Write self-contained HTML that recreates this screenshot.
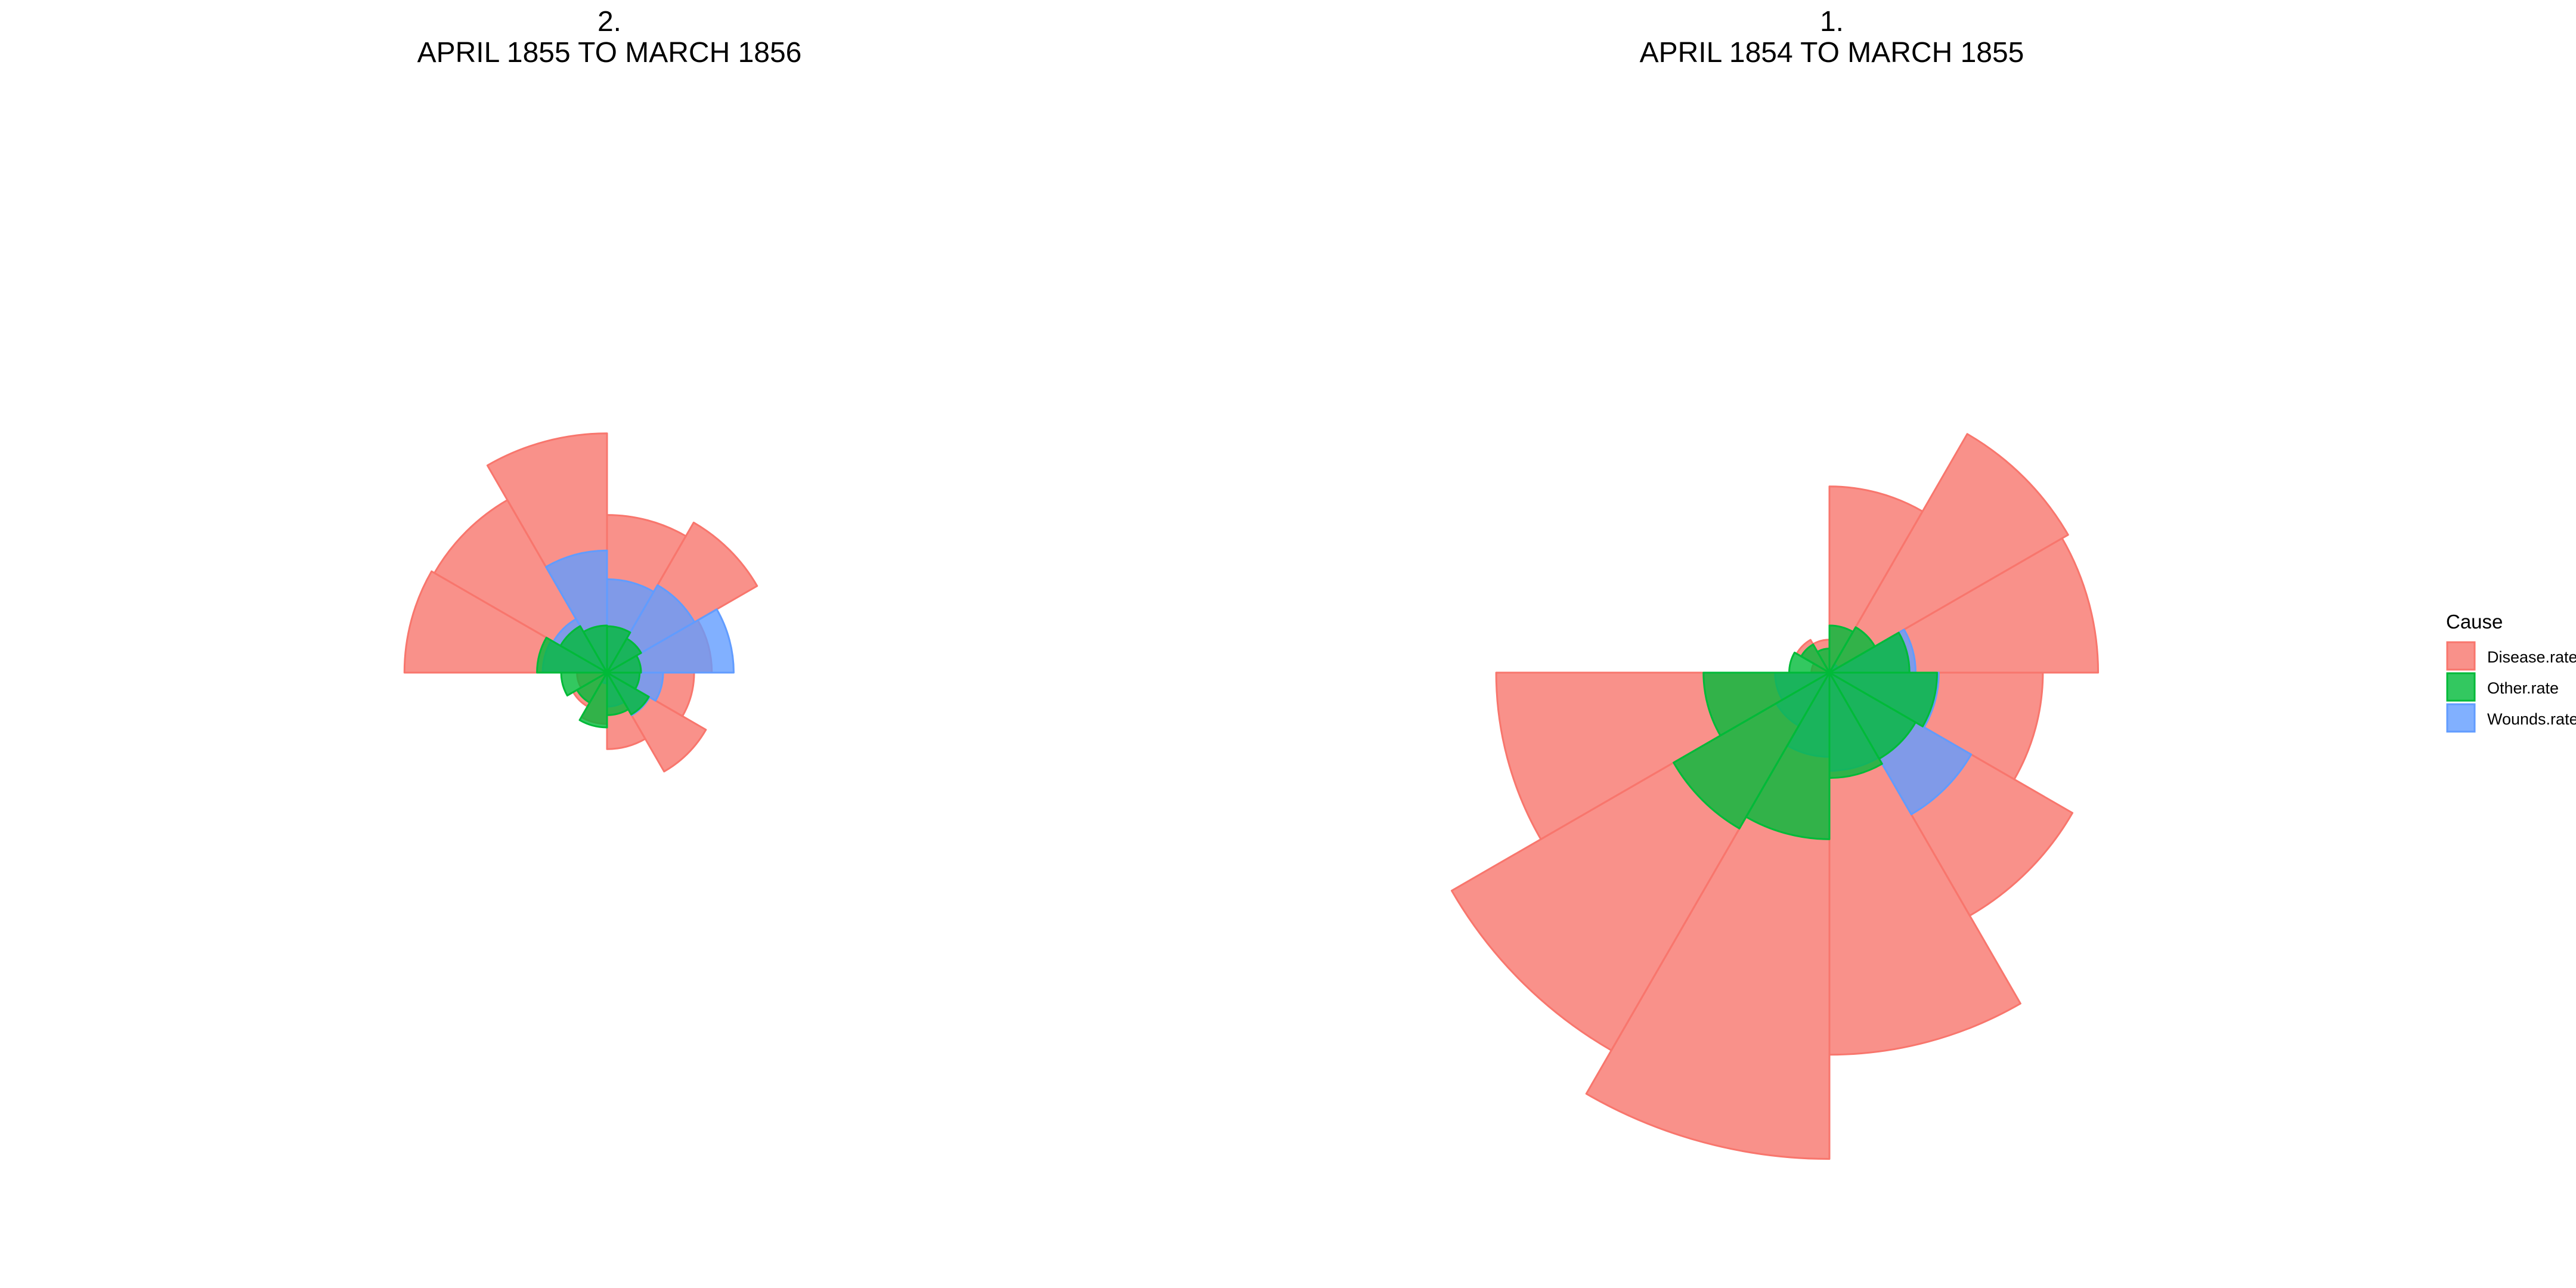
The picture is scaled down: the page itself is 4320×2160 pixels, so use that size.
<!DOCTYPE html>
<html><head><meta charset="utf-8"><style>
body{margin:0;background:#fff;}
svg{display:block;font-family:"Liberation Sans",sans-serif;}
</style></head><body>
<svg id="chart" width="4320" height="2160" viewBox="0 0 4320 2160">
<g id="panels"></g>
<g>
<text x="4102" y="1054" font-size="33">Cause</text>
<rect x="4104" y="1077" width="46" height="46" fill="#F8766D" fill-opacity="0.8" stroke="#F8766D" stroke-width="3"/>
<text x="4171" y="1111" font-size="27">Disease.rate</text>
<rect x="4104" y="1129" width="46" height="46" fill="#00BA38" fill-opacity="0.8" stroke="#00BA38" stroke-width="3"/>
<text x="4171" y="1163" font-size="27">Other.rate</text>
<rect x="4104" y="1181" width="46" height="46" fill="#619CFF" fill-opacity="0.8" stroke="#619CFF" stroke-width="3"/>
<text x="4171" y="1215" font-size="27">Wounds.rate</text>
</g>
</svg>
<script>
// month order around the rose, clockwise from top
const months = ["Jul","Aug","Sep","Oct","Nov","Dec","Jan","Feb","Mar","Apr","May","Jun"];
const panelTitles = [["2.","APRIL 1855 TO MARCH 1856"],["1.","APRIL 1854 TO MARCH 1855"]];
const disease1856 = [107.5,129.9,47.5,32.8,56.4,25.3,11.4,6.6,3.9,177.5,171.8,247.6];
const wounds1856  = [37.7,44.1,69.4,13.6,10.5,5,0.5,0,0,17.9,16.6,64.5];
const other1856   = [9.3,6.7,5,4.6,10.1,7.8,13,5.2,9.1,21.2,12.5,9.6];
const disease1855 = [150,328.5,312.2,197,340.6,631.5,1022.8,822.8,480.3,1.4,6.2,4.7];
const wounds1855  = [0,0.4,32.1,51.7,115.8,41.7,30.7,16.3,12.8,0,0,0];
const other1855   = [9.6,11.9,27.7,50.1,42.8,48,120,140.1,68.6,7,4.6,2.5];

const NS="http://www.w3.org/2000/svg";
const K=25.5;
function rScale(v){return K*Math.sqrt(v);}
function pt(cx,cy,r,deg){const a=deg*Math.PI/180;return [cx+r*Math.sin(a),cy-r*Math.cos(a)];}
const panelsG=document.getElementById('panels');
const panels=[
 {cx:1018,cy:1128,tx:1022,title:panelTitles[0],series:[["disease",disease1856,"#F8766D"],["wounds",wounds1856,"#619CFF"],["other",other1856,"#00BA38"]]},
 {cx:3068,cy:1128,tx:3072,title:panelTitles[1],series:[["disease",disease1855,"#F8766D"],["wounds",wounds1855,"#619CFF"],["other",other1855,"#00BA38"]]}
];
panels.forEach((p,pi)=>{
  const g=document.createElementNS(NS,'g');
  
  
  panelsG.appendChild(g);
  p.title.forEach((t,li)=>{
    const tx=document.createElementNS(NS,'text');
    tx.setAttribute('x',p.tx);tx.setAttribute('y',52+li*52);
    tx.setAttribute('text-anchor','middle');tx.setAttribute('font-size','48');
    tx.textContent=t;
    
    
    g.appendChild(tx);
  });
  p.series.forEach(([name,vals,col])=>{
    vals.forEach((v,i)=>{
      const r=rScale(v); if(r<=0) return;
      const a0=i*360/months.length,a1=(i+1)*360/months.length;
      const s=pt(p.cx,p.cy,r,a0),e=pt(p.cx,p.cy,r,a1);
      const path=document.createElementNS(NS,'path');
      path.setAttribute('d',`M${p.cx},${p.cy}L${s[0]},${s[1]}A${r},${r} 0 0 1 ${e[0]},${e[1]}Z`);
      path.setAttribute('fill',col);path.setAttribute('fill-opacity','0.8');
      path.setAttribute('stroke',col);path.setAttribute('stroke-width','3');
      path.setAttribute('stroke-linejoin','round');
      
      
      g.appendChild(path);
    });
  });
});
</script>
</body></html>
